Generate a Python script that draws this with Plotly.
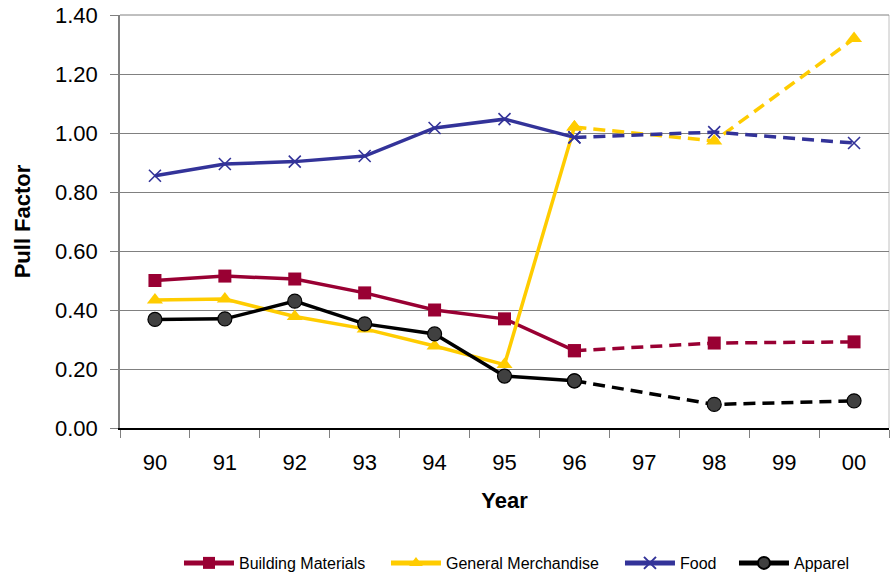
import plotly.graph_objects as go

years = ["90", "91", "92", "93", "94", "95", "96", "97", "98", "99", "00"]
building_materials = [0.50, 0.515, 0.505, 0.458, 0.40, 0.37, 0.262, None, 0.288, None, 0.292]
general_merchandise = [0.434, 0.437, 0.378, 0.336, 0.278, 0.215, 1.02, None, 0.973, None, 1.32]
food = [0.855, 0.895, 0.903, 0.922, 1.017, 1.047, 0.985, None, 1.003, None, 0.966]
apparel = [0.368, 0.37, 0.43, 0.353, 0.319, 0.176, 0.160, None, 0.08, None, 0.092]

series = [
    ("Building Materials", building_materials, "#990033",
     dict(symbol="square", size=13, color="#990033", line=dict(width=0)), 142),
    ("General Merchandise", general_merchandise, "#FFCC00",
     dict(symbol="triangle-up", size=14, color="#FFCC00", line=dict(width=0)), 169),
    ("Food", food, "#333399",
     dict(symbol="x-thin", size=12, color="#333399", line=dict(width=1.6, color="#333399")), 49),
    ("Apparel", apparel, "#000000",
     dict(symbol="circle", size=14, color="#404040", line=dict(width=1.2, color="#000000")), 60),
]

split = years.index("96")
fig = go.Figure()
for name, vals, color, marker, lw in series:
    fig.add_trace(go.Scatter(
        x=years[:split + 1], y=vals[:split + 1], mode="lines+markers", name=name,
        legendgroup=name, legendwidth=lw, line=dict(color=color, width=3.5), marker=marker,
    ))
    fig.add_trace(go.Scatter(
        x=years[split:], y=vals[split:], mode="lines+markers", name=name,
        legendgroup=name, showlegend=False, connectgaps=True,
        line=dict(color=color, width=3.5, dash="12px,7px"), marker=marker,
    ))

fig.update_layout(
    width=891, height=576,
    margin=dict(l=120, r=2, t=15, b=148),
    paper_bgcolor="white", plot_bgcolor="white",
    font=dict(family="Liberation Sans, Arial, sans-serif", color="black"),
    showlegend=True,
    legend=dict(
        orientation="h", x=0.0767, xanchor="left",
        yref="container", y=0.0226, yanchor="middle",
        font=dict(size=16), itemwidth=50, traceorder="normal", itemsizing="constant",
    ),
    xaxis=dict(
        type="category", categoryorder="array", categoryarray=years,
        range=[-0.5, 10.5], tickson="boundaries", ticks="outside", ticklen=8,
        tickcolor="#808080", showline=True, linecolor="black", linewidth=2,
        showgrid=False, tickfont=dict(size=22), ticklabelstandoff=14, automargin=False,
        title=dict(text="<b>Year</b>", font=dict(size=22), standoff=18),
    ),
    yaxis=dict(
        range=[0, 1.4], dtick=0.2, tickformat=".2f", ticks="outside", ticklen=8,
        tickcolor="#808080", showline=True, linecolor="#808080", linewidth=1.5,
        showgrid=True, gridcolor="#808080", gridwidth=1, zeroline=False,
        tickfont=dict(size=22), ticklabelstandoff=8, automargin=False,
        ticklabeloverflow="allow",
        title=dict(text="<b>Pull Factor</b>", font=dict(size=22), standoff=18),
    ),
    shapes=[
        dict(type="line", xref="paper", yref="paper", x0=1, x1=1, y0=0, y1=1,
             line=dict(color="#C0C0C0", width=1), layer="below"),
        dict(type="line", xref="paper", yref="paper", x0=0, x1=1, y0=1, y1=1,
             line=dict(color="#808080", width=1), layer="below"),
    ],
)

fig.write_html("out.html", config={"displayModeBar": False},
               post_script="document.body.style.margin='0';")
